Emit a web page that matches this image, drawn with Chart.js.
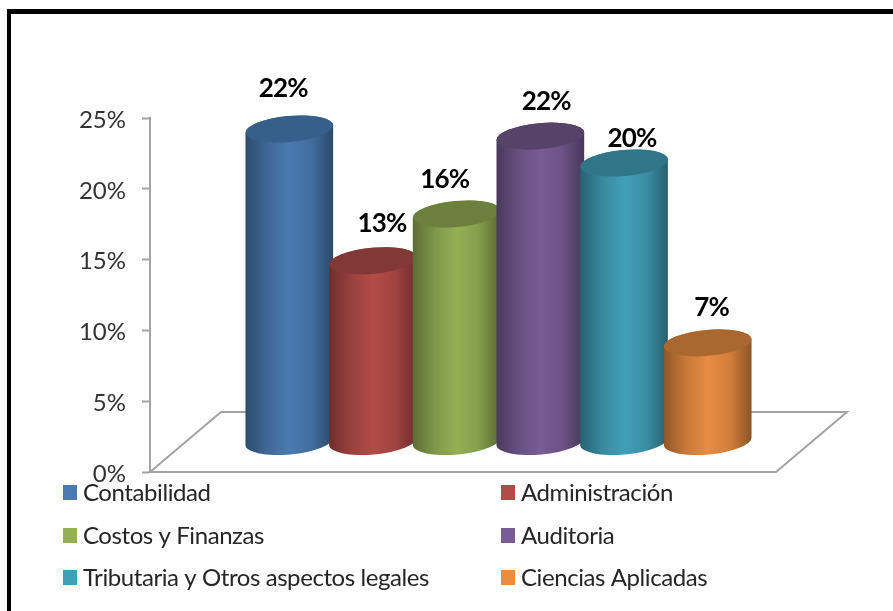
<!DOCTYPE html>
<html>
<head>
<meta charset="utf-8">
<title>Chart</title>
<script src="https://cdn.jsdelivr.net/npm/chart.js@4"></script>
<style>
    html, body { margin: 0; padding: 0; background: #fff; }
    #wrap { position: relative; width: 893px; height: 611px; overflow: hidden; }
    #frame { position: absolute; left: 7px; top: 9px; width: 890px; height: 620px; border: 4px solid #000; border-top-width: 5px; box-sizing: border-box; }
    canvas { position: absolute; left: 0; top: 0; }
</style>
</head>
<body>
<div id="wrap">
    <canvas id="chart" width="893" height="611"></canvas>
    <div id="frame"></div>
</div>
<script>
const categories = ['Área'];
const seriesNames = ['Contabilidad', 'Administración', 'Costos y Finanzas', 'Auditoria', 'Tributaria y Otros aspectos legales', 'Ciencias Aplicadas'];
const seriesValues = [22.1, 12.8, 16.1, 21.6, 19.7, 7.0];
const seriesColors = ['#4a7ab0', '#b34b48', '#93b055', '#785c95', '#429fb8', '#e98c42'];
const topColors = ['#365f8a', '#823836', '#6a803c', '#574269', '#307688', '#aa6830'];
const yTicks = [0, 5, 10, 15, 20, 25];

// hand placed in the original, so each label gets its own nudge from the cylinder top
const labelNudgeX = [-6, 9, -12, 6, 8, 4];
const labelNudgeY = [-40, -37, -34, -35, -24, -35];

const gray = '#a3a3a3';
const fontName = 'Lato, "Open Sans", sans-serif';
const depthX = 71;
const depthY = 60;

const shade = (hex, k) => {
    const n = parseInt(hex.slice(1), 16);
    return `rgb(${(n >> 16) * k | 0}, ${((n >> 8) & 255) * k | 0}, ${(n & 255) * k | 0})`;
};

const drawFloor = (ctx, area) => {
    ctx.save();
    ctx.beginPath();
    ctx.moveTo(area.left, area.bottom);
    ctx.lineTo(area.left + depthX, area.bottom - depthY);
    ctx.lineTo(area.right + depthX, area.bottom - depthY);
    ctx.lineTo(area.right, area.bottom);
    ctx.closePath();
    ctx.strokeStyle = gray;
    ctx.lineWidth = 2;
    ctx.stroke();
    ctx.restore();
};

const drawCylinder = (ctx, bar, color, topColor) => {
    // the bar stands in the middle of the floor depth
    const cx = bar.x + depthX / 2;
    const rx = bar.width * 0.526;
    const ry = 13;
    const tilt = -0.09;
    const topY = bar.y - depthY / 2;
    const baseY = bar.base - depthY / 2;

    const grad = ctx.createLinearGradient(cx - rx, 0, cx + rx, 0);
    grad.addColorStop(0, shade(color, 0.62));
    grad.addColorStop(0.25, shade(color, 0.86));
    grad.addColorStop(0.5, color);
    grad.addColorStop(0.75, shade(color, 0.9));
    grad.addColorStop(1, shade(color, 0.6));

    ctx.save();
    ctx.beginPath();
    ctx.ellipse(cx, baseY, rx, ry, tilt, 0, Math.PI);
    ctx.ellipse(cx, topY, rx, ry, tilt, Math.PI, Math.PI * 2);
    ctx.closePath();
    ctx.fillStyle = grad;
    ctx.fill();

    ctx.beginPath();
    ctx.ellipse(cx, topY, rx, ry, tilt, 0, Math.PI * 2);
    ctx.fillStyle = topColor;
    ctx.fill();
    ctx.restore();
};

const cylinderPlugin = {
    id: 'cylinders',
    beforeDatasetsDraw(chart) {
        const { ctx, chartArea } = chart;
        drawFloor(ctx, chartArea);

        chart.data.datasets.forEach((dataset, i) => {
            const bar = chart.getDatasetMeta(i).data[0];
            drawCylinder(ctx, bar, dataset.backgroundColor, dataset.topColor);
        });

        chart.data.datasets.forEach((dataset, i) => {
            const bar = chart.getDatasetMeta(i).data[0];
            ctx.save();
            ctx.font = 'bold 26px ' + fontName;
            ctx.letterSpacing = '-0.8px';
            ctx.fillStyle = '#000';
            ctx.textAlign = 'center';
            ctx.textBaseline = 'middle';
            ctx.fillText(Math.round(dataset.data[0]) + '%',
                bar.x + depthX / 2 + labelNudgeX[i],
                bar.y - depthY / 2 + labelNudgeY[i]);
            ctx.restore();
        });
        return false;
    }
};

// two column legend under the floor, the built in one can't space its columns like this
const legendPlugin = {
    id: 'twoColumnLegend',
    afterDraw(chart) {
        const { ctx } = chart;
        const columns = [63, 501];
        const rows = [493, 536, 578];
        chart.data.datasets.forEach((dataset, i) => {
            const x = columns[i % 2];
            const y = rows[Math.floor(i / 2)];
            ctx.save();
            ctx.fillStyle = dataset.backgroundColor;
            ctx.fillRect(x, y - 8, 14, 15);
            ctx.font = '24px ' + fontName;
            ctx.letterSpacing = '-0.42px';
            ctx.fillStyle = '#262626';
            ctx.textBaseline = 'middle';
            ctx.fillText(dataset.label, x + 20, y);
            ctx.restore();
        });
    }
};

new Chart(document.getElementById('chart'), {
    type: 'bar',
    data: {
        labels: categories,
        datasets: seriesNames.map((name, i) => ({
            label: name,
            data: [seriesValues[i]],
            backgroundColor: seriesColors[i],
            topColor: topColors[i]
        }))
    },
    options: {
        responsive: false,
        animation: false,
        categoryPercentage: 0.802,
        barPercentage: 1,
        layout: { padding: { top: 118, bottom: 139, right: 117, left: 0 } },
        plugins: {
            legend: { display: false },
            tooltip: { enabled: false }
        },
        scales: {
            x: { display: false },
            y: {
                min: 0,
                max: 25,
                afterBuildTicks: scale => { scale.ticks = yTicks.map(value => ({ value })); },
                afterFit: scale => { scale.width = 150; scale.paddingTop = 0; scale.paddingBottom = 0; },
                border: { color: gray, width: 2 },
                grid: { drawOnChartArea: false, color: gray, tickLength: 8, tickWidth: 2 },
                ticks: {
                    padding: 16,
                    labelOffset: 2,
                    color: '#333',
                    font: { family: fontName, size: 24 },
                    callback: value => value + '%'
                }
            }
        }
    },
    plugins: [cylinderPlugin, legendPlugin]
});
</script>
</body>
</html>
